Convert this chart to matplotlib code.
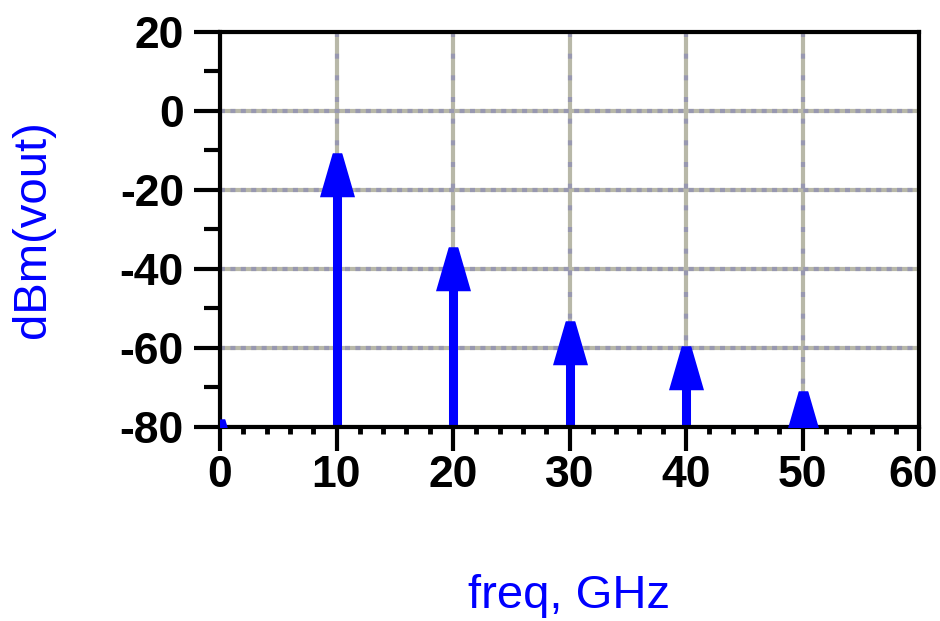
import matplotlib
matplotlib.use("Agg")
import matplotlib.pyplot as plt
from matplotlib.path import Path
from matplotlib.transforms import ScaledTranslation

plt.rcParams["font.family"] = ["Liberation Sans", "DejaVu Sans"]
plt.rcParams["font.weight"] = "bold"
plt.rcParams["axes.unicode_minus"] = False

# 频谱数据 (freq, GHz / dBm)
freq = [0, 10, 20, 30, 40, 50]
dbm = [-78.0, -10.6, -34.4, -53.2, -59.5, -70.9]

x_ticks = [0, 10, 20, 30, 40, 50, 60]
y_ticks = [-80, -60, -40, -20, 0, 20]

blue = "#0000ff"
grid_gray = "#b8b8a8"
grid_dot = "#9898b0"

fig = plt.figure(figsize=(9.4, 6.21), dpi=100)
ax = fig.add_axes([220 / 940, 1 - 427 / 621, 699 / 940, 395 / 621])

ax.set_xlim(0, 60)
ax.set_ylim(-80, 20)
ax.set_xticks(x_ticks)
ax.set_yticks(y_ticks)
ax.set_xticks(range(0, 61, 2), minor=True)
ax.set_yticks(range(-80, 21, 10), minor=True)

# 网格: 灰色实线 + 紫色点
ax.grid(True, which="major", color=grid_gray, lw=3)
for x in x_ticks[1:-1]:
    ax.axvline(x, color=grid_dot, lw=3, ls=(0, (1.2, 4.0)), zorder=1.6)
for y in y_ticks[1:-1]:
    ax.axhline(y, color=grid_dot, lw=3, ls=(0, (1.2, 1.3)), zorder=1.6)

# 竖线 + 三角形标记 (平顶尖端在数据点)
tri = Path([(-0.11, 0), (0.11, 0), (0.4, -1), (-0.4, -1), (-0.11, 0)],
           [Path.MOVETO, Path.LINETO, Path.LINETO, Path.LINETO, Path.CLOSEPOLY])
ax.vlines(freq, -80, dbm, color=blue, lw=6.5, zorder=2)
ax.plot(freq, dbm, ls="none", marker=tri, ms=63, color=blue,
        markeredgewidth=0, zorder=3)

for s in ax.spines.values():
    s.set_linewidth(3)
    s.set_color("black")
    s.set_zorder(2.5)

ax.tick_params(axis="y", which="major", direction="out", length=19, width=3,
               pad=7, labelsize=32)
ax.tick_params(axis="y", which="minor", direction="out", length=11.5, width=3)
ax.tick_params(axis="x", which="major", direction="out", length=17, width=3,
               pad=3, labelsize=32)
ax.tick_params(axis="x", which="minor", direction="out", length=5, width=3.5)

# 最右边的 "60" 往左挪一点, 避免被裁掉
last = ax.xaxis.get_major_ticks()[-1].label1
last.set_transform(last.get_transform() + ScaledTranslation(-6 / 100, 0, fig.dpi_scale_trans))

ax.set_xlabel("freq, GHz", color=blue, fontsize=34)
ax.set_ylabel("dBm(vout)", color=blue, fontsize=34)
ax.xaxis.set_label_coords(0.5, -0.428)
ax.yaxis.set_label_coords(-0.2675, 0.5)
ax.xaxis.label.set_va("center")
ax.yaxis.label.set_va("center")

fig.savefig("out.png", dpi=100)
